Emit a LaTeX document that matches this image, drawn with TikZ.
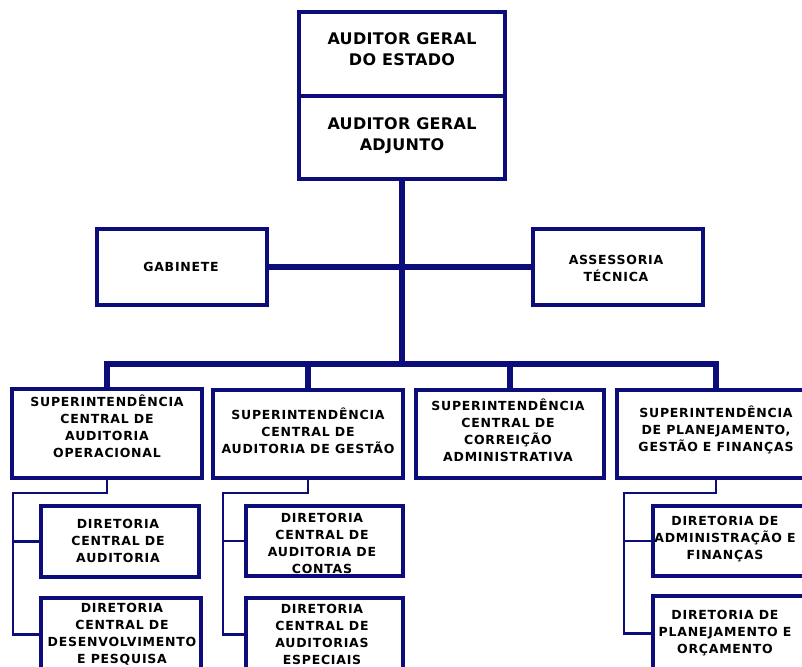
\documentclass[tikz,border=0pt]{standalone}
\usepackage{fontspec}
\setmainfont{DejaVu Sans}
\newfontfamily\topfont{DejaVu Sans}[LetterSpace=2]
\newfontfamily\boxfont{DejaVu Sans}[LetterSpace=6]
\definecolor{navy}{RGB}{12,12,122}
\tikzset{
  box/.style={draw=navy, line width=4pt, fill=white, rectangle, inner sep=0pt},
  lbl/.style={align=center, inner sep=0pt, text=black, font=\boxfont\bfseries\fontsize{12.5}{17}\selectfont},
  toplbl/.style={align=center, inner sep=0pt, text=black, font=\topfont\bfseries\fontsize{16}{21}\selectfont},
  mainline/.style={draw=navy, line width=5.5pt, line join=miter},
  subline/.style={draw=navy, line width=2.5pt, line join=miter}
}
\begin{document}
\begin{tikzpicture}[x=1pt, y=-1pt]
\useasboundingbox (0,0) rectangle (802,666);
\clip (0,0) rectangle (802,666);
\fill[white] (0,0) rectangle (802,666);

% coordinates for connectors
\coordinate (bus) at (402,364);
\coordinate (c1) at (13,493);
\coordinate (c2) at (223,493);
\coordinate (c4) at (624,493);

% boxes
\node[box, minimum width=206pt, minimum height=84pt] (top1) at (402,54) {};
\node[box, minimum width=206pt, minimum height=83pt] (top2) at (402,137.5) {};
\node[box, minimum width=170pt, minimum height=76pt] (gab) at (182,267) {};
\node[box, minimum width=170pt, minimum height=76pt] (ass) at (618,267) {};
\node[box, minimum width=190pt, minimum height=89pt] (s1) at (107,433.5) {};
\node[box, minimum width=190pt, minimum height=88pt] (s2) at (308,434) {};
\node[box, minimum width=188pt, minimum height=88pt] (s3) at (510,434) {};
\node[box, minimum width=198pt, minimum height=88pt] (s4) at (716,434) {};
\node[box, minimum width=158pt, minimum height=71pt] (d1) at (120,541.5) {};
\node[box, minimum width=160pt, minimum height=73pt] (d2) at (121,634.5) {};
\node[box, minimum width=157pt, minimum height=70pt] (d3) at (324.5,541) {};
\node[box, minimum width=157pt, minimum height=73pt] (d4) at (324.5,634.5) {};
\node[box, minimum width=152pt, minimum height=70pt] (d5) at (729,541) {};
\node[box, minimum width=152pt, minimum height=75pt] (d6) at (729,633.5) {};

% connectors
\draw[mainline] (top2.south) -- (bus);
\draw[mainline] (gab.east) -- (ass.west);
\draw[mainline] (s1.north) |- (bus) -| (s4.north);
\draw[mainline] (s2.north) -- (s2.north |- bus);
\draw[mainline] (s3.north) -- (s3.north |- bus);

\draw[subline] (s1.south) |- (c1) |- (d2.west);
\draw[subline] (c1 |- d1.west) -- (d1.west);
\draw[subline] (s2.south) |- (c2) |- (d4.west);
\draw[subline] (c2 |- d3.west) -- (d3.west);
\draw[subline] (s4.south) |- (c4) |- (d6.west);
\draw[subline] (c4 |- d5.west) -- (d5.west);

% labels
\node[toplbl] (t1) at (402,49) {AUDITOR GERAL\\DO ESTADO};
\node[toplbl] (t2) at (402,136) {AUDITOR GERAL\\ADJUNTO};
\node[lbl] (tgab) at (181,267) {GABINETE};
\node[lbl] (tass) at (616,268.5) {ASSESSORIA\\TÉCNICA};
\node[lbl] (ts1) at (107,426) {SUPERINTENDÊNCIA\\CENTRAL DE\\AUDITORIA\\OPERACIONAL};
\node[lbl] (ts2) at (308,431) {SUPERINTENDÊNCIA\\CENTRAL DE\\AUDITORIA DE GESTÃO};
\node[lbl] (ts3) at (508,430) {SUPERINTENDÊNCIA\\CENTRAL DE\\CORREIÇÃO\\ADMINISTRATIVA};
\node[lbl] (ts4) at (716,430) {SUPERINTENDÊNCIA\\DE PLANEJAMENTO,\\GESTÃO E FINANÇAS};
\node[lbl] (td1) at (118,541) {DIRETORIA\\CENTRAL DE\\AUDITORIA};
\node[lbl] (td2) at (122,634) {DIRETORIA\\CENTRAL DE\\DESENVOLVIMENTO\\E PESQUISA};
\node[lbl] (td3) at (322,543) {DIRETORIA\\CENTRAL DE\\AUDITORIA DE\\CONTAS};
\node[lbl] (td4) at (322,634) {DIRETORIA\\CENTRAL DE\\AUDITORIAS\\ESPECIAIS};
\node[lbl] (td5) at (725,539) {DIRETORIA DE\\ADMINISTRAÇÃO E\\FINANÇAS};
\node[lbl] (td6) at (725,633) {DIRETORIA DE\\PLANEJAMENTO E\\ORÇAMENTO};
\end{tikzpicture}
\end{document}
